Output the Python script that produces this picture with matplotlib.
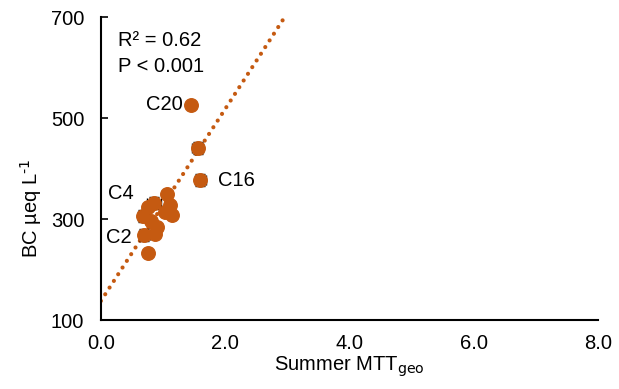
import numpy as np
import matplotlib.pyplot as plt

plt.rcParams["font.family"] = ["Liberation Sans", "DejaVu Sans"]

# summer MTT_geo vs BC (µeq/L)
mtt = [1.45, 1.56, 1.60, 1.07, 0.86, 0.76, 0.68, 1.11, 1.14, 1.03, 0.90, 0.87, 0.70, 0.76, 0.80]
bc = [526, 440, 377, 350, 332, 324, 306, 328, 308, 314, 285, 270, 268, 232, 296]

# points with visible error bars
err_x = [1.56, 1.60, 0.86, 0.68, 0.70]
err_y = [440, 377, 332, 306, 268]
err_dx = [0.09, 0.09, 0.11, 0.09, 0.09]
err_dy = [12, 12, 12, 12, 12]

labels = ["C20", "C16", "C4", "C2"]
label_x = [1.32, 1.88, 0.12, 0.08]
label_y = [526, 377, 350, 264]
label_ha = ["right", "left", "left", "left"]

slope, intercept = 190.0, 138.0

orange = "#C55A11"
fs = 14.5

fig, ax = plt.subplots(figsize=(6.19, 3.89), dpi=100)
ax.errorbar(err_x, err_y, xerr=err_dx, yerr=err_dy, fmt="none", ecolor="k",
            elinewidth=1.0, capsize=3.5, zorder=2)
ax.scatter(mtt, bc, s=95, color=orange, zorder=3)

xl = np.array([0.0, (700 - intercept) / slope])
ax.plot(xl, slope * xl + intercept, color=orange, ls=(0, (0.01, 1.9)), lw=3,
        dash_capstyle="round", zorder=1)

for t, x, y, ha in zip(labels, label_x, label_y, label_ha):
    ax.text(x, y, t, fontsize=fs, va="center", ha=ha)

ax.text(0.035, 0.955, "R² = 0.62", transform=ax.transAxes, fontsize=fs, va="top")
ax.text(0.035, 0.87, "P < 0.001", transform=ax.transAxes, fontsize=fs, va="top")

ax.set_xlim(0, 8)
ax.set_ylim(100, 700)
ax.set_xticks([0, 2, 4, 6, 8])
ax.set_xticklabels([f"{v:.1f}" for v in [0, 2, 4, 6, 8]])
ax.set_yticks([100, 300, 500, 700])
ax.tick_params(axis="both", labelsize=fs, direction="in", length=5, width=1.2)
ax.tick_params(axis="y", pad=12)
ax.tick_params(axis="x", length=0, pad=10)
ax.spines["top"].set_visible(False)
ax.spines["right"].set_visible(False)
ax.spines["left"].set_linewidth(1.5)
ax.spines["bottom"].set_linewidth(1.5)
ax.set_xlabel("Summer MTT$_{\\mathrm{geo}}$", fontsize=fs, labelpad=1)
ax.set_ylabel("BC µeq L$^{\\mathrm{‐1}}$", fontsize=fs)
ax.yaxis.set_label_coords(-0.115, 0.37)

fig.subplots_adjust(left=0.163, right=0.966, top=0.956, bottom=0.177)
fig.savefig("out.png", dpi=100)
